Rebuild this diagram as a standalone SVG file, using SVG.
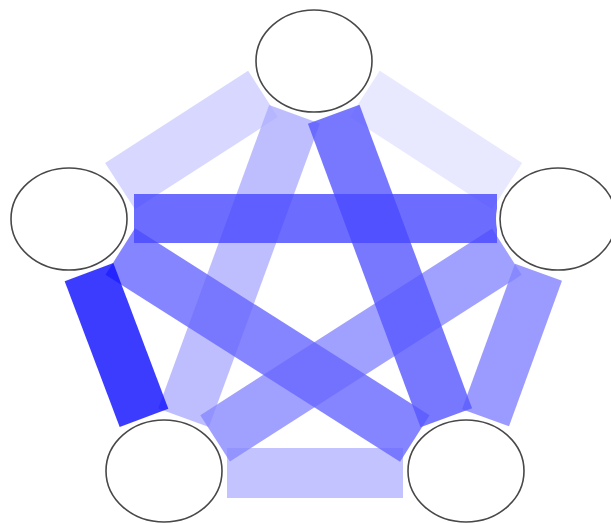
<svg xmlns="http://www.w3.org/2000/svg" width="611" height="523" viewBox="0 0 611 523">
<style>
.e{stroke-linecap:butt;fill:none;stroke-opacity:0.8}
.halo{fill:#fff;stroke:#fff;stroke-width:8}
.n{fill:none;stroke:#484848;stroke-width:1.6}
</style>
<rect width="611" height="523" fill="#fff"/>
<g id="connectors">
<line class="e" x1="364.8" y1="93.9" x2="507.2" y2="186.1" stroke="#e2e2ff" stroke-width="55"/>
<line class="e" x1="263" y1="93.9" x2="120" y2="186.1" stroke="#cdcdff" stroke-width="55"/>
<line class="e" x1="227" y1="473" x2="403" y2="473" stroke="#b4b4ff" stroke-width="50"/>
<line class="e" x1="294.5" y1="114.2" x2="183.5" y2="417.8" stroke="#aeaeff" stroke-width="54"/>
<line class="e" x1="506.9" y1="251.7" x2="215.1" y2="438.3" stroke="#8888ff" stroke-width="55"/>
<line class="e" x1="538.5" y1="272.3" x2="485.5" y2="417.7" stroke="#8282ff" stroke-width="50"/>
<line class="e" x1="120.2" y1="251.5" x2="414.8" y2="438.5" stroke="#6666ff" stroke-width="55"/>
<line class="e" x1="333.7" y1="114.2" x2="446.3" y2="417.8" stroke="#5656ff" stroke-width="55"/>
<line class="e" x1="134" y1="218.5" x2="497" y2="218.5" stroke="#4747ff" stroke-width="49"/>
<line class="e" x1="89" y1="272.1" x2="144" y2="417.9" stroke="#0b0bff" stroke-width="52"/>
</g>
<g id="node-top"><ellipse class="halo" cx="314" cy="61" rx="58" ry="51"/><ellipse class="n" cx="314" cy="61" rx="58" ry="51"/></g>
<g id="node-left"><ellipse class="halo" cx="69" cy="219" rx="58" ry="51"/><ellipse class="n" cx="69" cy="219" rx="58" ry="51"/></g>
<g id="node-right"><ellipse class="halo" cx="558" cy="219" rx="58" ry="51"/><ellipse class="n" cx="558" cy="219" rx="58" ry="51"/></g>
<g id="node-bottom-left"><ellipse class="halo" cx="164" cy="471" rx="58" ry="51"/><ellipse class="n" cx="164" cy="471" rx="58" ry="51"/></g>
<g id="node-bottom-right"><ellipse class="halo" cx="466" cy="471" rx="58" ry="51"/><ellipse class="n" cx="466" cy="471" rx="58" ry="51"/></g>
</svg>
